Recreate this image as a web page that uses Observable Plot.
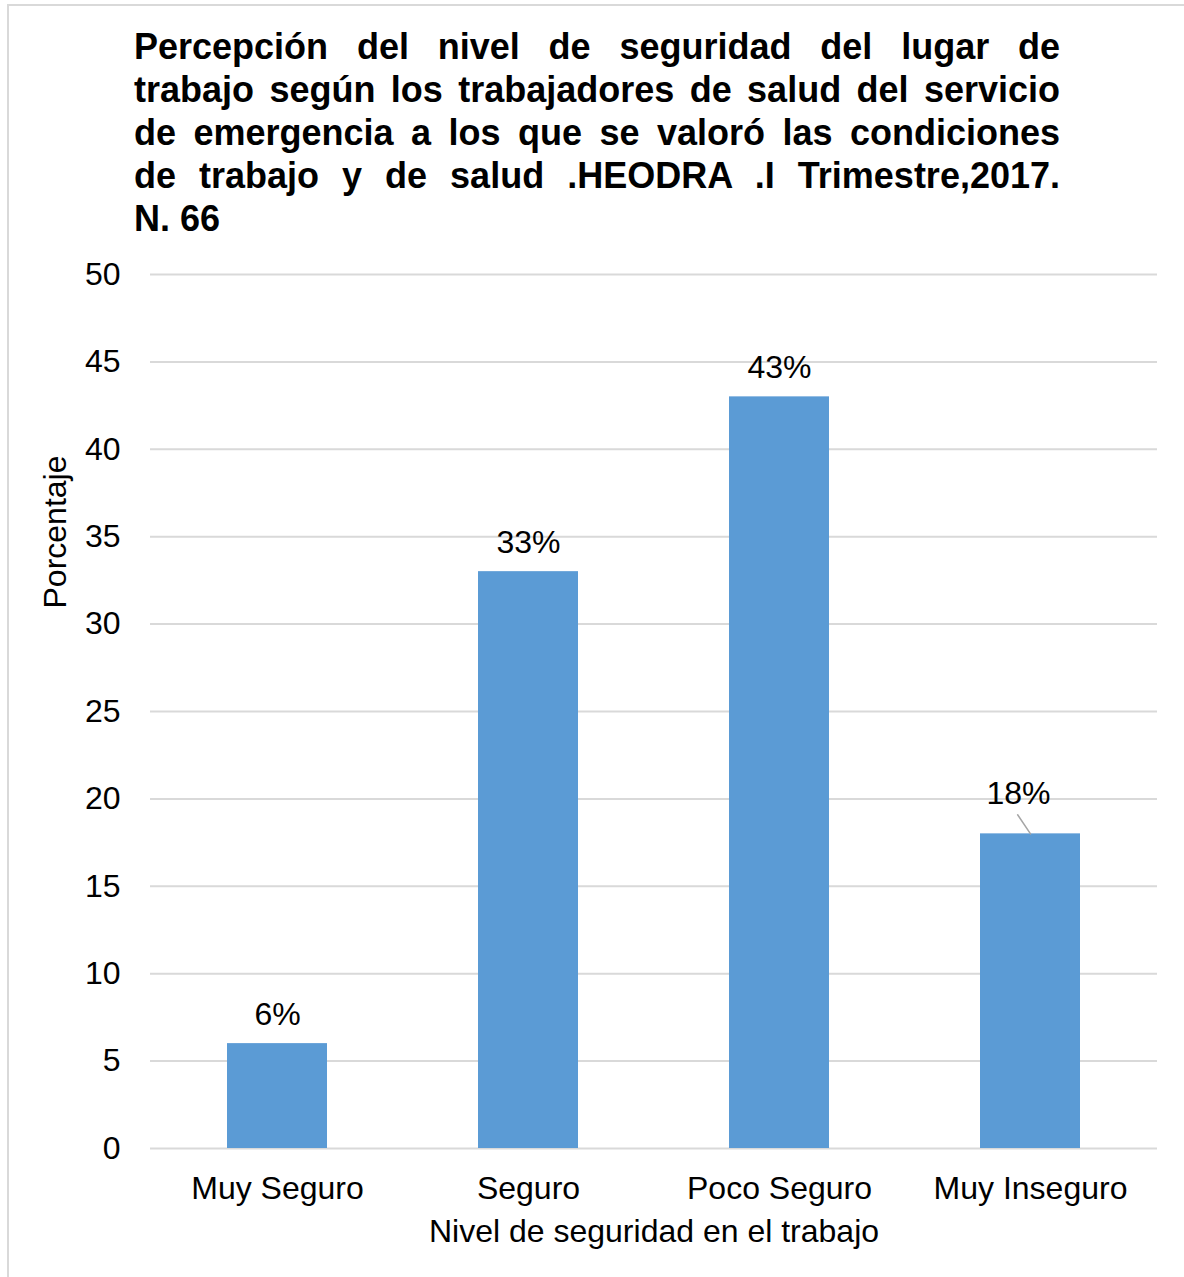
<!DOCTYPE html>
<html>
<head>
<meta charset="utf-8">
<script src="https://cdn.jsdelivr.net/npm/d3@7"></script>
<script src="https://cdn.jsdelivr.net/npm/@observablehq/plot@0.6"></script>
<style>
  html, body { margin: 0; padding: 0; background: #fff; }
  body { width: 1184px; height: 1277px; position: relative; overflow: hidden; font-family: "Liberation Sans", Arial, sans-serif; }
  #frame { position: absolute; left: 7px; top: 4px; width: 1300px; height: 1400px; border: 2px solid #d9d9d9; box-sizing: border-box; }
  #title { position: absolute; left: 134px; top: 25px; width: 926px; font-weight: bold; font-size: 36px; line-height: 43px; color: #000; }
  #title div { text-align: justify; text-align-last: justify; white-space: nowrap; }
  #title div.last { text-align-last: left; }
  #ylabel { position: absolute; left: 55px; top: 532px; transform: translate(-50%, -50%) rotate(-90deg); font-size: 32px; white-space: nowrap; color: #000; }
  #chart { position: absolute; left: 0; top: 240px; }
</style>
</head>
<body>
<div id="frame"></div>
<div id="title"></div>
<div id="ylabel"></div>
<div id="chart"></div>
<script>
const titleLines = [
  "Percepción del nivel de seguridad del lugar de",
  "trabajo según los trabajadores de salud del servicio",
  "de emergencia a los que  se valoró las condiciones",
  "de trabajo y de salud .HEODRA .I Trimestre,2017.",
  "N. 66"
];
const categories = ["Muy Seguro", "Seguro", "Poco Seguro", "Muy Inseguro"];
const values = [6, 33, 43, 18];
const yTicks = [0, 5, 10, 15, 20, 25, 30, 35, 40, 45, 50];
const xAxisLabel = "Nivel de seguridad en el trabajo";
const yAxisLabel = "Porcentaje";

const titleEl = document.getElementById("title");
titleLines.forEach((t, i) => {
  const d = document.createElement("div");
  d.textContent = t;
  if (i === titleLines.length - 1) d.className = "last";
  titleEl.appendChild(d);
});
document.getElementById("ylabel").textContent = yAxisLabel;

const data = categories.map((c, i) => ({category: c, value: values[i]}));
const leader = data.filter(d => d.category === "Muy Inseguro");
const normal = data.filter(d => d.category !== "Muy Inseguro");

const chart = Plot.plot({
  width: 1184,
  height: 1037,
  marginTop: 34,
  marginBottom: 129,
  marginLeft: 150,
  marginRight: 27,
  style: {fontFamily: "Liberation Sans, Arial, sans-serif", fontSize: "32px", color: "#000", background: "transparent"},
  x: {domain: categories, paddingInner: 0.6, paddingOuter: 0.3, label: null},
  y: {domain: [0, 50], ticks: yTicks, label: null},
  marks: [
    Plot.gridY(yTicks, {stroke: "#d9d9d9", strokeOpacity: 1, strokeWidth: 2}),
    Plot.barY(data, {x: "category", y: "value", fill: "#5b9bd5"}),
    Plot.text(normal, {x: "category", y: "value", text: d => d.value + "%", dy: -29, lineAnchor: "middle", fill: "#000"}),
    Plot.text(leader, {x: "category", y: "value", text: d => d.value + "%", dy: -40, dx: -12, lineAnchor: "middle", fill: "#000"}),
    Plot.vector(leader, {x: "category", y: "value", anchor: "start", length: 23, rotate: -34, r: 0, stroke: "#a6a6a6", strokeWidth: 1.5}),
    Plot.axisX({tickSize: 0, tickPadding: 28, label: null}),
    Plot.axisY({ticks: yTicks, tickSize: 0, tickPadding: 30, label: null}),
    Plot.text([xAxisLabel], {frameAnchor: "bottom", dy: 83, text: d => d, lineAnchor: "middle", fill: "#000"})
  ]
});
document.getElementById("chart").appendChild(chart);
</script>
</body>
</html>
